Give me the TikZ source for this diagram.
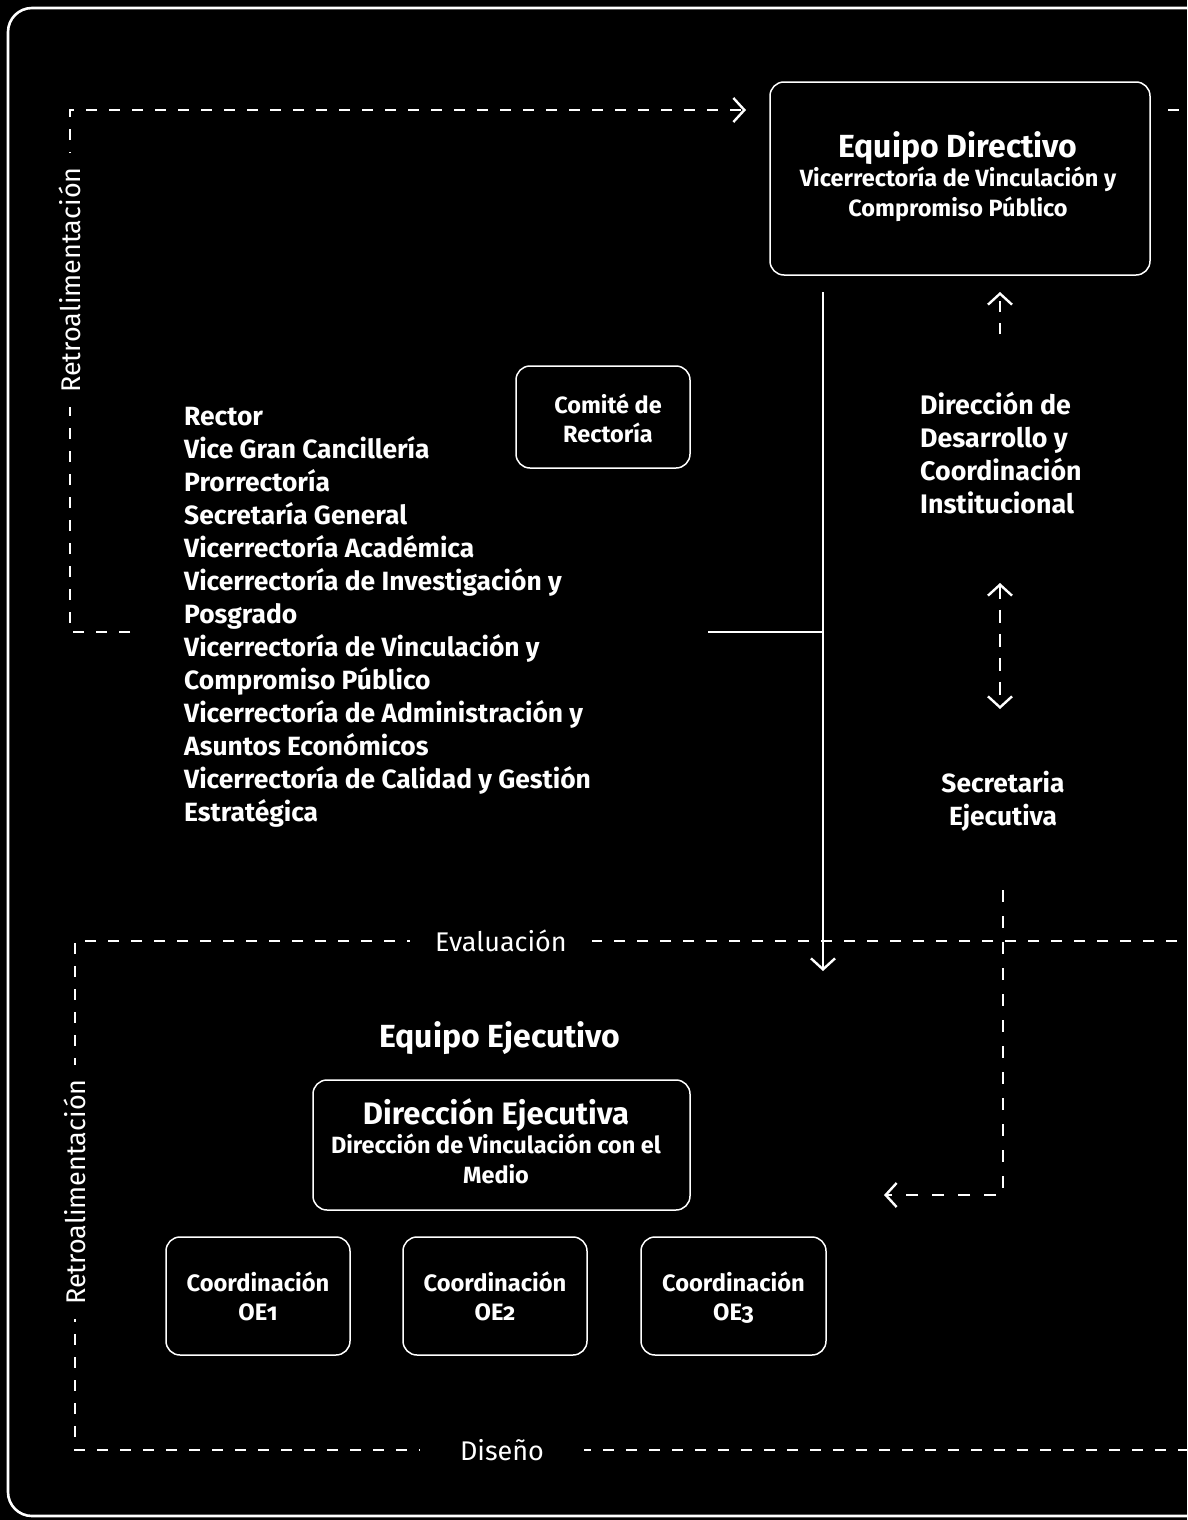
\documentclass[tikz,border=0pt]{standalone}
\usepackage{fontspec}
\setmainfont{Fira Sans}
\usetikzlibrary{arrows.meta}
\begin{document}
\begin{tikzpicture}[x=1pt,y=-1pt,
  every node/.style={text=white, inner sep=0pt},
  solidln/.style={draw=white, line width=2.4pt},
  dashln/.style={draw=white, line width=2.6pt, dash pattern=on 11pt off 12pt},
  barb/.style={-{Straight Barb[length=11pt,width=24pt,line width=2.4pt]}},
  dbarb/.style={{Straight Barb[length=11pt,width=24pt,line width=2.4pt]}-{Straight Barb[length=11pt,width=24pt,line width=2.4pt]}},
  rbox/.style={draw=white, line width=1.5pt, rounded corners=14pt},
  big/.style={font=\fontsize{32}{34}\selectfont\bfseries},
  sub/.style={font=\fontsize{23.5}{30}\selectfont\bfseries},
  lbl/.style={font=\fontsize{27}{29}\selectfont, fill=black, inner xsep=25pt, inner ysep=4pt},
  bodyb/.style={font=\fontsize{26.4}{33}\selectfont\bfseries},
  coord/.style={font=\fontsize{23.7}{29}\selectfont\bfseries, anchor=base, align=center}
]
\fill[black] (0,0) rectangle (1187,1520);
\useasboundingbox (0,0) rectangle (1187,1520);
\draw[white, line width=2.6pt, rounded corners=24pt] (8,8) rectangle (1240,1516);

% ---- top block
\node[rbox, minimum width=380pt, minimum height=193pt] (dir) at (960,178.5) {};
\node[big, anchor=base] (dirt) at (958,157) {Equipo Directivo};
\node[sub, anchor=base, align=center] (dirs) at (958,216) {Vicerrectoría de Vinculación y\\Compromiso Público};

\node[rbox, minimum width=174pt, minimum height=102pt] (com) at (603,417) {};
\node[font=\fontsize{23.5}{29}\selectfont\bfseries, anchor=base, align=center] (comt) at (608,442) {Comité de\\Rectoría};

\node[bodyb, anchor=base west, align=left] (list) at (184,821) {Rector\\Vice Gran Cancillería\\Prorrectoría\\Secretaría General\\Vicerrectoría Académica\\Vicerrectoría de Investigación y\\Posgrado\\Vicerrectoría de Vinculación y\\Compromiso Público\\Vicerrectoría de Administración y\\Asuntos Económicos\\Vicerrectoría de Calidad y Gestión\\Estratégica};

\node[font=\fontsize{26.8}{33}\selectfont\bfseries, anchor=base west, align=left] (ddc) at (920,513) {Dirección de\\Desarrollo y\\Coordinación\\Institucional};

\node[font=\fontsize{26.3}{33}\selectfont\bfseries, anchor=base, align=center] (sec) at (1003,825) {Secretaria\\Ejecutiva};

% ---- feedback loop top
\coordinate (fbA) at (130,632);
\coordinate (fbB) at (70,632);
\coordinate (fbC) at (70,110);
\coordinate (fbD) at (746,110);
\draw[dashln, barb] (fbA) -- (fbB) -- (fbC) -- (fbD);
\node[lbl, rotate=90, inner xsep=14pt, inner ysep=4pt] (ret1) at (70,280) {Retroalimentación};
\coordinate (rin) at (1168,110);
\coordinate (rout) at (1200,110);
\draw[dashln] (rin) -- (rout);

% ---- central solid line
\coordinate (vtop) at (823,292);
\coordinate (vmid) at (823,632);
\coordinate (vbot) at (823,971);
\coordinate (hl) at (708,632);
\draw[solidln] (hl) -- (vmid);
\draw[solidln, barb] (vtop) -- (vbot);

% ---- right column arrows
\coordinate (a1s) at (1000,334);
\coordinate (a1e) at (1000,292);
\draw[dashln, barb, dash pattern=on 11pt off 11pt] (a1s) -- (a1e);
\coordinate (a2s) at (1000,583);
\coordinate (a2e) at (1000,709);
\draw[dashln, dbarb, dash pattern=on 13pt off 11pt] (a2s) -- (a2e);
\coordinate (a3s) at (1003,890);
\coordinate (a3c) at (1003,1195);
\coordinate (a3e) at (884,1195);
\draw[dashln, barb, dash pattern=on 12pt off 14pt] (a3s) -- (a3c) -- (a3e);

% ---- lower frame
\coordinate (evL) at (75,941);
\coordinate (evR) at (1200,941);
\coordinate (diL) at (75,1450);
\coordinate (diR) at (1200,1450);
\draw[dashln] (evR) -- (evL) -- (diL) -- (diR);
\node[lbl] (eval) at (501,941) {Evaluación};
\node[lbl, inner xsep=40pt] (dise) at (502,1450) {Diseño};
\node[lbl, rotate=90, inner xsep=14pt, inner ysep=4pt] (ret2) at (75,1192) {Retroalimentación};

\node[big, anchor=base] (eqe) at (500,1047) {Equipo Ejecutivo};

\node[rbox, minimum width=377pt, minimum height=130pt] (dej) at (501.5,1145) {};
\node[font=\fontsize{31}{33}\selectfont\bfseries, anchor=base] (dejt) at (496,1124) {Dirección Ejecutiva};
\node[sub, anchor=base, align=center] (dejs) at (496,1183) {Dirección de Vinculación con el\\Medio};

\node[rbox, minimum width=184pt, minimum height=118pt] (c1) at (258,1296) {};
\node[rbox, minimum width=184pt, minimum height=118pt] (c2) at (495,1296) {};
\node[rbox, minimum width=185pt, minimum height=118pt] (c3) at (733.5,1296) {};
\node[coord] (c1t) at (c1.center |- 0,1320) {Coordinación\\{\addfontfeatures{Numbers=OldStyle}OE1}};
\node[coord] (c2t) at (c2.center |- 0,1320) {Coordinación\\{\addfontfeatures{Numbers=OldStyle}OE2}};
\node[coord] (c3t) at (c3.center |- 0,1320) {Coordinación\\{\addfontfeatures{Numbers=OldStyle}OE3}};
\end{tikzpicture}
\end{document}
